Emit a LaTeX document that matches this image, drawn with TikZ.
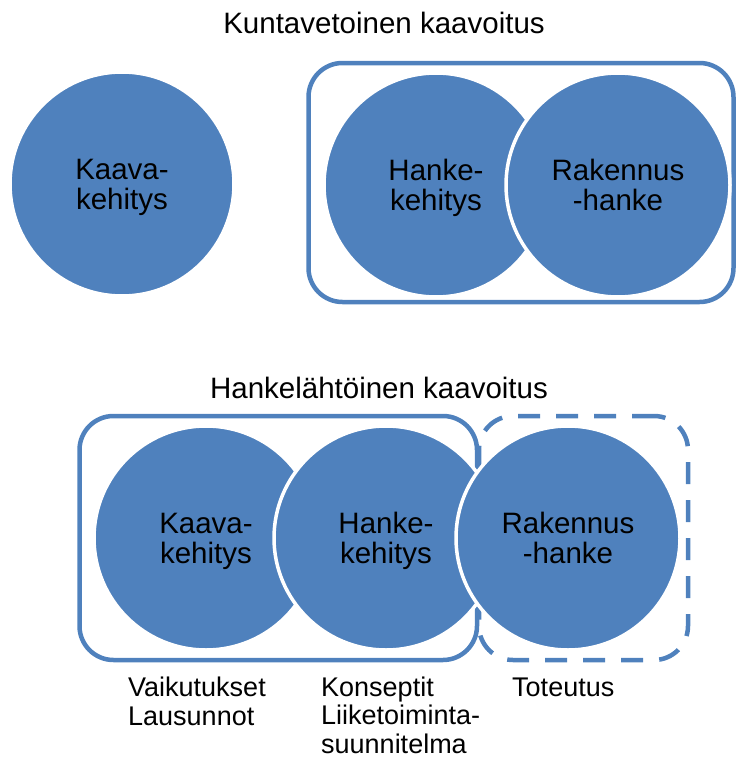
\documentclass[tikz,border=0pt]{standalone}
\usepackage{fontspec}
\setmainfont{Liberation Sans}
\definecolor{office}{HTML}{4F81BD}
\begin{document}
\begin{tikzpicture}[x=1pt,y=-1pt,
  disc/.style={circle, fill=office, draw=white, line width=3.5pt,
    minimum size=224pt, inner sep=0pt, align=center,
    text height=52pt, text depth=2pt,
    font=\fontsize{29.5}{30}\selectfont},
  frame/.style={draw=office, line width=4.5pt, rounded corners=34pt,
    inner sep=0pt},
  dashframe/.style={frame, dash pattern=on 22pt off 16pt},
  heading/.style={anchor=base, font=\fontsize{29.5}{30}\selectfont},
  note/.style={anchor=base west, align=left, inner sep=0pt,
    font=\fontsize{27}{28.5}\selectfont}]
\useasboundingbox (0,0) rectangle (736,758);

% group frames
\node[frame, minimum width=425pt, minimum height=239pt] (topgroup) at (521,182.5) {};
\node[frame, minimum width=397.5pt, minimum height=244pt] (plangroup) at (278.25,538) {};
\node[dashframe, minimum width=209pt, minimum height=244pt] (buildgroup) at (583.5,538) {};

% headings
\node[heading] (head1) at (384,33) {Kuntavetoinen kaavoitus};
\node[heading] (head2) at (379,398) {Hankelähtöinen kaavoitus};

% upper row
\node[disc] (kaava1) at (122,184) {Kaava-\\kehitys};
\node[disc] (hanke1) at (436,185) {Hanke-\\kehitys};
\node[disc] (rak1) at (618,185) {Rakennus\\-hanke};

% lower row
\node[disc] (kaava2) at (206,538) {Kaava-\\kehitys};
\node[disc] (hanke2) at (386,538) {Hanke-\\kehitys};
\node[disc] (rak2) at (568,538) {Rakennus\\-hanke};

% notes under the lower row (anchored at the last line's baseline)
\node[note] (note1) at (128,725) {Vaikutukset\\Lausunnot};
\node[note] (note2) at (321,753) {Konseptit\\Liiketoiminta-\\suunnitelma};
\node[note] (note3) at (512,696.5) {Toteutus};
\end{tikzpicture}
\end{document}
